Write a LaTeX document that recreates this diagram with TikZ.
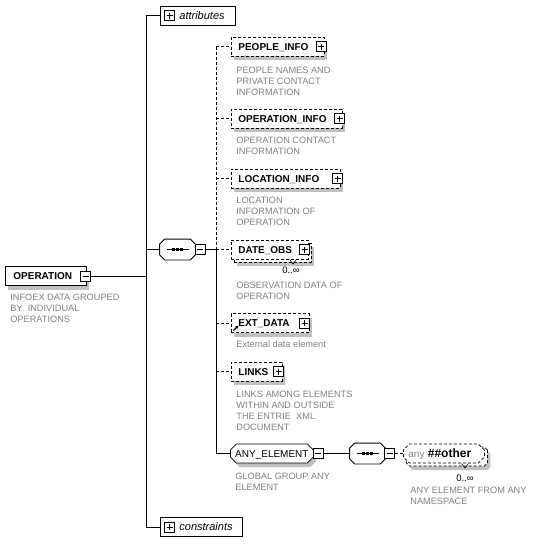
\documentclass[tikz,border=0pt]{standalone}
\usepackage{fontspec}
\setmainfont{Liberation Sans}
\usetikzlibrary{shapes.misc,shadows,arrows.meta}
\definecolor{txtgray}{RGB}{128,128,128}
\definecolor{shgray}{RGB}{192,192,192}
\tikzset{
  dsh/.style={dash pattern=on 3pt off 2pt},
  sh/.style={drop shadow={shadow xshift=3pt,shadow yshift=-4pt,fill=shgray,opacity=1}},
  lbl/.style={font=\fontsize{10}{12}\selectfont\bfseries,text height=7.2pt,text depth=0pt},
  elem/.style={draw,fill=white,minimum height=19pt,inner xsep=7pt,inner ysep=0pt,anchor=west,align=left,lbl},
  fold/.style={draw,fill=white,minimum height=19pt,inner xsep=5pt,inner ysep=0pt,anchor=west,align=left,
    font=\fontsize{11}{12}\selectfont\itshape,text height=7.5pt,text depth=0pt},
  seqbox/.style={draw=none,minimum width=35pt,minimum height=20pt,inner sep=0pt},
  octpath/.style={fill=white,draw},
  octshadow/.style={fill=shgray,draw=none},
  grpbox/.style={chamfered rectangle,chamfered rectangle xsep=3pt,chamfered rectangle ysep=3pt,
    draw,fill=white,minimum width=83pt,minimum height=19pt,inner xsep=0pt,inner ysep=0pt,
    font=\fontsize{10}{12}\selectfont,text height=7.2pt,text depth=0pt},
  desc/.style={anchor=north west,inner sep=0pt,align=left,text=txtgray,font=\fontsize{9.2}{11}\selectfont},
  occ/.style={anchor=east,inner sep=0pt,font=\fontsize{9.5}{11}\selectfont},
  plusicon/.style={draw,fill=white,minimum size=10pt,inner sep=0pt,
    path picture={\draw ([xshift=-3pt]path picture bounding box.center) -- ([xshift=3pt]path picture bounding box.center)
      ([yshift=-3pt]path picture bounding box.center) -- ([yshift=3pt]path picture bounding box.center);}},
  minusicon/.style={draw,fill=white,minimum size=10pt,inner sep=0pt,
    path picture={\draw ([xshift=-3pt]path picture bounding box.center) -- ([xshift=3pt]path picture bounding box.center);}},
}
\newcommand{\octaof}[2]{% #1 node name, #2 style
  \path[#2] ([xshift=5pt]#1.north west) -- ([xshift=-5pt]#1.north east) -- ([yshift=-5pt]#1.north east)
    -- ([yshift=5pt]#1.south east) -- ([xshift=-5pt]#1.south east) -- ([xshift=5pt]#1.south west)
    -- ([yshift=5pt]#1.south west) -- ([yshift=-5pt]#1.north west) -- cycle;}
\newcommand{\seqglyph}[1]{%
  \draw ([xshift=-11pt]#1.center) -- ([xshift=11pt]#1.center);
  \foreach \d in {-3.8,0,3.8} \fill ([xshift=\d pt-1.3pt,yshift=-1.3pt]#1.center) rectangle ([xshift=\d pt+1.3pt,yshift=1.3pt]#1.center);}
\begin{document}
\begin{tikzpicture}[x=1pt,y=-1pt,line width=0.8pt]
\useasboundingbox (0,0) rectangle (546,555);
\fill[white] (0,0) rectangle (546,555);

% root
\node[elem,sh,minimum width=80pt,text width=65pt,inner xsep=8pt] (op) at (5,276) {OPERATION};
\node[minusicon] (mop) at (85.5,276) {};
\node[desc] (dop) at (10,293.7) {INFOEX DATA GROUPED\\BY\ \ INDIVIDUAL\\OPERATIONS};

% trunk
\coordinate (ta) at (146,15.5);
\coordinate (tb) at (146,527);
\coordinate (to) at (146,276);
\coordinate (ts) at (146,249.5);
\draw (ta) -- (tb);
\draw (mop.east) -- (to);

% attributes / constraints
\node[fold,minimum width=75pt,text width=65pt] (attr) at (160,15.5) {\hspace*{14pt}attributes};
\node[plusicon] (pattr) at (169.5,15.5) {};
\node[fold,minimum width=82pt,text width=72pt] (cons) at (160,527) {\hspace*{14pt}constraints};
\node[plusicon] (pcons) at (169.5,527) {};
\draw (ta) -- (attr.west);
\draw (tb) -- (cons.west);

% sequence
\node[seqbox] (seq1) at (177.5,249.5) {};
\begin{scope}[shift={(3,4)}]\octaof{seq1}{octshadow}\end{scope}
\octaof{seq1}{octpath}
\seqglyph{seq1}
\node[minusicon] (mseq1) at (200,249.5) {};
\draw (ts) -- (seq1.west);
\coordinate (v1) at (216,46.5);
\coordinate (vs) at (216,249.5);
\coordinate (v2) at (216,453.5);
\draw (mseq1.east) -- (vs);
\draw[dsh] (v1) -- (vs);
\draw (vs) -- (v2);

% PEOPLE_INFO
\node[elem,dsh,sh,minimum width=93pt,text width=79pt] (pi) at (231,46.5) {PEOPLE\_INFO};
\node[plusicon] (ppi) at (321,46.5) {};
\draw[dsh] (v1) -- (pi.west);
\node[desc] (dpi) at (236,66.2) {PEOPLE NAMES AND\\PRIVATE CONTACT\\INFORMATION};

% OPERATION_INFO
\node[elem,dsh,sh,minimum width=111pt,text width=97pt] (oi) at (231,118.5) {OPERATION\_INFO};
\node[plusicon] (poi) at (339.5,118.5) {};
\draw[dsh] (v1 |- oi.west) -- (oi.west);
\node[desc] (doi) at (236,136.7) {OPERATION CONTACT\\INFORMATION};

% LOCATION_INFO
\node[elem,dsh,sh,minimum width=109pt,text width=95pt] (li) at (231,178.5) {LOCATION\_INFO};
\node[plusicon] (pli) at (337.5,178.5) {};
\draw[dsh] (v1 |- li.west) -- (li.west);
\node[desc] (dli) at (236,196.7) {LOCATION\\INFORMATION OF\\OPERATION};

% DATE_OBS (multiple)
\node[elem,dsh,sh,minimum width=77pt,text width=63pt] (dob) at (234,252.5) {};
\node[elem,dsh,minimum width=77pt,text width=63pt] (do) at (231,249.5) {DATE\_OBS};
\node[plusicon] (pdo) at (304.5,249.5) {};
\draw[dsh] (vs) -- (do.west);
\draw[line width=0.6pt] (289.5,259.5) -- (293,264) -- (296.5,259.5);
\node[occ] (odo) at (300,270) {0..∞};
\node[desc] (ddo) at (236,281.2) {OBSERVATION DATA OF\\OPERATION};

% EXT_DATA
\node[elem,dsh,sh,minimum width=78pt,text width=64pt] (ed) at (231,323) {EXT\_DATA};
\node[plusicon] (ped) at (304.5,323) {};
\draw[-{Stealth[length=3.5pt,width=3.5pt]},line width=1.2pt] (233.5,330.5) -- (238.5,325.5);
\draw[dsh] (v1 |- ed.west) -- (ed.west);
\node[desc] (ded) at (236,340.7) {External data element};

% LINKS
\node[elem,dsh,sh,minimum width=51pt,text width=37pt] (lk) at (231,371.5) {LINKS};
\node[plusicon] (plk) at (278.5,371.5) {};
\draw[dsh] (v1 |- lk.west) -- (lk.west);
\node[desc] (dlk) at (236,390.7) {LINKS AMONG ELEMENTS\\WITHIN AND OUTSIDE\\THE ENTRIE\ \ XML\\DOCUMENT};

% ANY_ELEMENT
\node[grpbox,sh,anchor=west] (ae) at (230,453.5) {ANY\_ELEMENT};
\node[minusicon] (mae) at (318,453.5) {};
\draw (v2) -- (ae.west);
\node[desc] (dae) at (235,472.7) {GLOBAL GROUP ANY\\ELEMENT};

% second sequence
\node[seqbox] (seq2) at (367.5,453.5) {};
\begin{scope}[shift={(3,4)}]\octaof{seq2}{octshadow}\end{scope}
\octaof{seq2}{octpath}
\seqglyph{seq2}
\node[minusicon] (mseq2) at (389.5,453.5) {};
\draw (mae.east) -- (seq2.west);

% any ##other (multiple)
\node[grpbox,dsh,sh,minimum width=81pt,anchor=west] (anb) at (406,456.5) {};
\node[grpbox,dsh,minimum width=81pt,inner xsep=2pt,text width=71pt,align=left,anchor=west] (an) at (403,453.5)
  {{\color{txtgray}any} {\fontsize{12}{12}\selectfont\bfseries\#\#other}};
\draw[dsh] (mseq2.east) -- (an.west);
\draw[line width=0.6pt] (461.5,463.5) -- (465,468) -- (468.5,463.5);
\node[occ] (oan) at (474,478) {0..∞};
\node[desc] (dan) at (410,486.7) {ANY ELEMENT FROM ANY\\NAMESPACE};
\end{tikzpicture}
\end{document}
